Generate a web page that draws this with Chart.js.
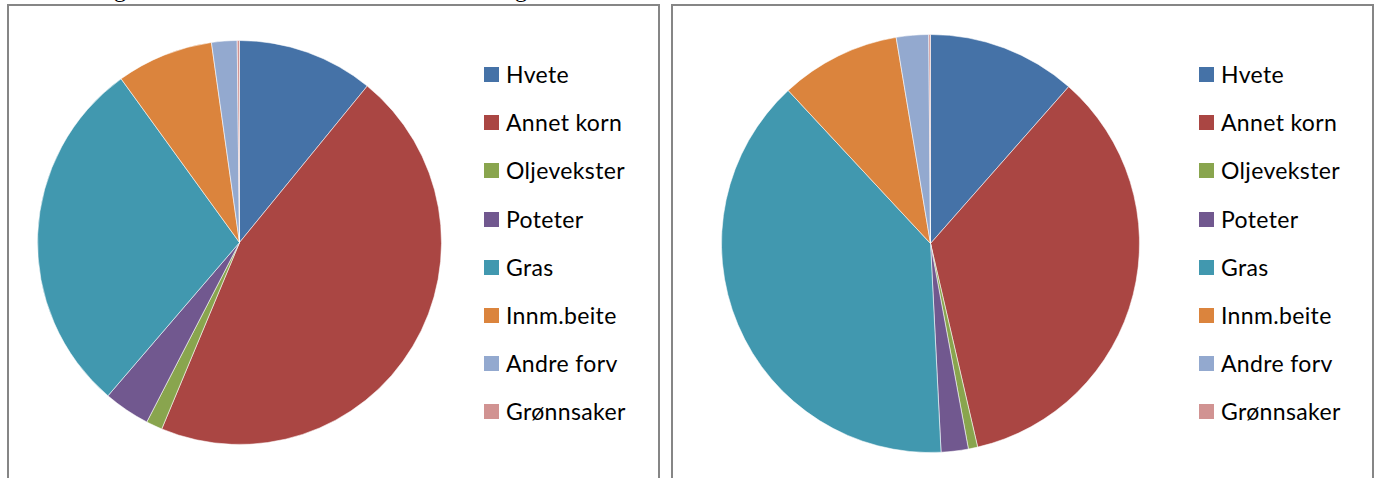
<!DOCTYPE html>
<html>
<head>
<meta charset="utf-8">
<script src="https://cdn.jsdelivr.net/npm/chart.js@4.4.1/dist/chart.umd.min.js"></script>
<style>
  html, body { margin: 0; padding: 0; background: #fff; }
  body { width: 1381px; height: 478px; position: relative; overflow: hidden; }
  .boks { position: absolute; top: 4px; height: 520px; border: 2px solid #868686; box-sizing: border-box; }
  .pai { position: absolute; }
  .forklaring { position: absolute; font-family: Lato, "Open Sans", sans-serif; font-size: 23px; letter-spacing: 0.35px; color: #000; }
  .rad { position: absolute; left: 0; white-space: nowrap; height: 24px; line-height: 24px; }
  .rad span.farge { position: absolute; left: 0; top: 5px; width: 15px; height: 15px; }
  .rad span.tekst { position: absolute; left: 22px; top: 0; }
  .topptekst { position: absolute; top: -24px; font-family: "Liberation Serif", serif; font-size: 24px; color: #000; }
</style>
</head>
<body>
<div class="topptekst" style="left:114px">g</div>
<div class="topptekst" style="left:515px">g</div>

<div class="boks" style="left:7px; width:653px;"></div>
<div class="boks" style="left:671px; width:703px;"></div>

<canvas id="paiVenstre" class="pai" width="405" height="405" style="left:37px; top:40px;"></canvas>
<canvas id="paiHoyre" class="pai" width="419" height="419" style="left:721px; top:34px;"></canvas>

<div id="forklaringVenstre" class="forklaring" style="left:484px; top:62px;"></div>
<div id="forklaringHoyre" class="forklaring" style="left:1199px; top:62px;"></div>

<script>
// arealfordeling, prosent
const kategorier = ["Hvete", "Annet korn", "Oljevekster", "Poteter", "Gras", "Innm.beite", "Andre forv", "Grønnsaker"];
const andelVenstre = [10.9, 45.4, 1.3, 3.7, 28.75, 7.75, 2.04, 0.18];
const andelHoyre = [11.5, 34.9, 0.72, 2.1, 38.9, 9.3, 2.5, 0.13];
const farger = ["#4572A7", "#AA4643", "#89A54E", "#71588F", "#4198AF", "#DB843D", "#93A9CF", "#D19392"];

function lagPai(id, verdier) {
    const ctx = document.getElementById(id).getContext("2d");
    return new Chart(ctx, {
        type: "pie",
        data: {
            labels: kategorier,
            datasets: [{
                data: verdier,
                backgroundColor: farger,
                borderColor: "rgba(255,255,255,0.55)",
                borderWidth: 1
            }]
        },
        options: {
            responsive: false,
            animation: false,
            layout: { padding: 0 },
            plugins: { legend: { display: false }, tooltip: { enabled: false } }
        }
    });
}

function lagForklaring(id) {
    const boks = document.getElementById(id);
    kategorier.forEach(function(navn, i) {
        const rad = document.createElement("div");
        rad.className = "rad";
        rad.style.top = (i * 48.2) + "px";
        rad.innerHTML = '<span class="farge" style="background:' + farger[i] + '"></span><span class="tekst">' + navn + '</span>';
        boks.appendChild(rad);
    });
}

lagPai("paiVenstre", andelVenstre);
lagPai("paiHoyre", andelHoyre);
lagForklaring("forklaringVenstre");
lagForklaring("forklaringHoyre");
</script>
</body>
</html>
